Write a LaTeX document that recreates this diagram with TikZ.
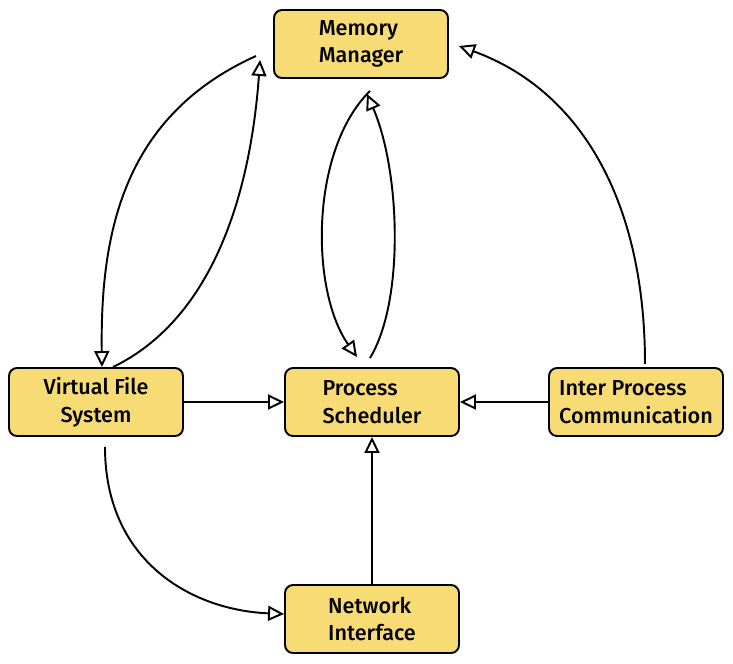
\documentclass[tikz,border=0pt]{standalone}
\usepackage{fontspec}
\setmainfont{Fira Sans}[UprightFont=* Medium]
\usetikzlibrary{arrows.meta}
\definecolor{boxfill}{HTML}{F7DC76}
\begin{document}
\begin{tikzpicture}[x=0.02cm, y=-0.02cm, line width=1.1pt]
	% Define styles
	\tikzstyle{module} = [rectangle, draw, fill=boxfill, rounded corners=0.16cm, minimum width=3.48cm, minimum height=1.36cm, align=left, font=\fontsize{12.3}{15.8}\selectfont]
	\tikzstyle{link} = [-{Triangle[open, length=0.32cm, width=0.3cm]}]
	\useasboundingbox (0,0) rectangle (733,663);

	% Nodes
	\node[module] (mm) at (361,44) {Memory\\Manager};
	\node[module, align=center] (vfs) at (96,402) {Virtual File\\System};
	\node[module] (ps) at (372,402) {Process\\Scheduler};
	\node[module] (ipc) at (636,402) {Inter Process\\Communication};
	\node[module] (ni) at (372,619) {Network\\Interface};

	% Arrows
	\draw[link] ([xshift=-0.34cm,yshift=0.46cm]mm.south west) .. controls (125,115) and (100,230) .. ([xshift=0.12cm]vfs.north);
	\draw[link] ([xshift=0.34cm]vfs.north) .. controls (210,320) and (250,200) .. ([xshift=-0.26cm,yshift=0.38cm]mm.south west);
	\draw[link] ([xshift=0.18cm,yshift=-0.24cm]mm.south) .. controls (310,150) and (310,290) .. ([xshift=-0.3cm,yshift=0.2cm]ps.north);
	\draw[link] ([xshift=-0.04cm,yshift=0.18cm]ps.north) .. controls (405,300) and (400,170) .. ([xshift=0.12cm,yshift=-0.3cm]mm.south);
	\draw[link] ([xshift=0.18cm,yshift=0.06cm]ipc.north) .. controls (645,200) and (580,90) .. ([xshift=0.2cm,yshift=-0.04cm]mm.east);
	\draw[link] (vfs.east) -- (ps.west);
	\draw[link] (ipc.west) -- (ps.east);
	\draw[link] (ni.north) -- (ps.south);
	\draw[link] ([xshift=0.18cm,yshift=-0.2cm]vfs.south) .. controls (105,560) and (190,610) .. ([yshift=0.1cm]ni.west);
\end{tikzpicture}
\end{document}
